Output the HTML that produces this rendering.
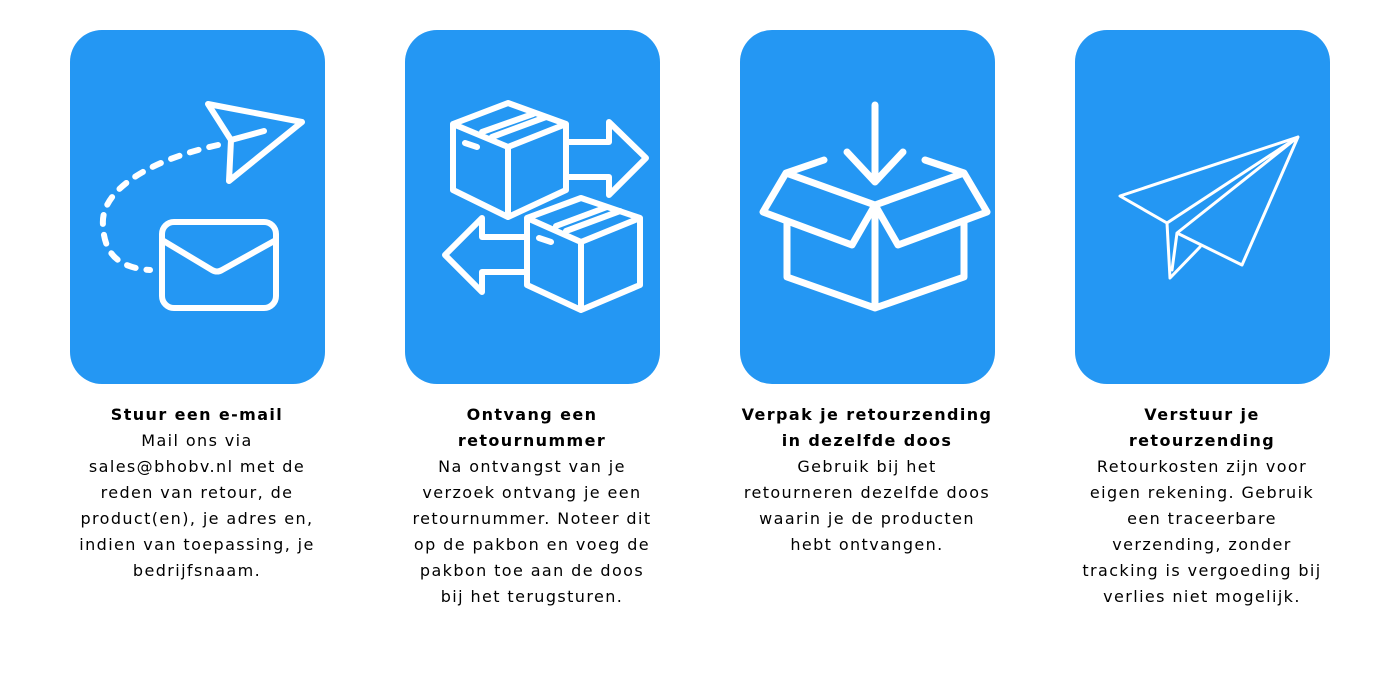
<!DOCTYPE html>
<html><head><meta charset="utf-8"><style>
body{margin:0;width:1400px;height:700px;background:#fff;position:relative;overflow:hidden;font-family:"DejaVu Sans","Liberation Sans",sans-serif;}
.card{position:absolute;top:30px;width:255px;height:354px;background:#2497f3;border-radius:32px;}
.t{position:absolute;top:402px;width:300px;text-align:center;font-size:16px;line-height:26px;color:#000;letter-spacing:1.4px;}
.t b{font-weight:bold;}
svg{position:absolute;left:0;top:0;}
</style></head><body>
<div class="card" style="left:70px"></div>
<div class="card" style="left:405px"></div>
<div class="card" style="left:740px"></div>
<div class="card" style="left:1075px"></div>
<svg width="1400" height="700" fill="none" stroke="#fff" stroke-linejoin="round" stroke-linecap="round">
<g stroke-width="6">
<path d="M208,104 L302,122 L229,181 L231,140 Z M231,140 L264,131"/>
<path d="M218,145 C150,160 100,190 103,225 C104,255 120,268 150,270" stroke-dasharray="9,11"/>
<rect x="162" y="222" width="114" height="86" rx="12"/>
<path d="M162,240 L212,270 Q217,273 222,270 L276,240"/>
<path d="M453,124 L508,103 L566,124 L508,147 Z M453,124 L453,190 L508,217 L566,190 L566,124 M508,147 L508,217 M482,132 L533,114 M492,137 L546,117 M465,143 L477,147"/>
<path d="M568,142 L609,142 L609,122 L646,158 L609,195 L609,177 L568,177"/>
<path d="M527,218 L581,198 L640,218 L581,242 Z M527,218 L527,285 L581,310 L640,285 L640,218 M581,242 L581,310 M556,226 L607,207 M566,231 L620,211 M539,238 L551,242"/>
<path d="M525,237 L482,237 L482,218 L445,255 L482,292 L482,272 L525,272"/>
<path d="M875,105 L875,182 M847,152 L875,182 L903,152" stroke-width="7"/>
<path d="M824,160 L786,173 L763,212 L852,245 L875,205 L898,245 L987,212 L964,173 L925,160 M786,173 L875,205 L964,173 M787,223 L787,277 L875,308 L964,277 L964,223 M875,205 L875,308" stroke-width="7"/>
</g>
<g stroke-width="3">
<path d="M1120,196 L1298,137 L1167,223 Z M1298,137 L1242,265 L1177,233 Z M1167,223 L1170,278 L1200,247 M1177,233 L1172,270"/>
</g>
</svg>
<div class="t" style="left:47px"><b>Stuur een e-mail</b><br>Mail ons via<br>sales@bhobv.nl met de<br>reden van retour, de<br>product(en), je adres en,<br>indien van toepassing, je<br>bedrijfsnaam.</div>
<div class="t" style="left:382px"><b>Ontvang een<br>retournummer</b><br>Na ontvangst van je<br>verzoek ontvang je een<br>retournummer. Noteer dit<br>op de pakbon en voeg de<br>pakbon toe aan de doos<br>bij het terugsturen.</div>
<div class="t" style="left:717px"><b>Verpak je retourzending<br>in dezelfde doos</b><br>Gebruik bij het<br>retourneren dezelfde doos<br>waarin je de producten<br>hebt ontvangen.</div>
<div class="t" style="left:1052px"><b>Verstuur je<br>retourzending</b><br>Retourkosten zijn voor<br>eigen rekening. Gebruik<br>een traceerbare<br>verzending, zonder<br>tracking is vergoeding bij<br>verlies niet mogelijk.</div>
</body></html>
